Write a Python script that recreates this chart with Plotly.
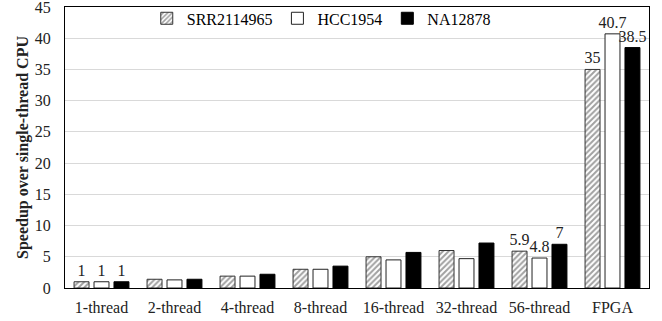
import plotly.graph_objects as go

categories = ["1-thread", "2-thread", "4-thread", "8-thread", "16-thread", "32-thread", "56-thread", "FPGA"]
srr = [1, 1.4, 1.9, 3.0, 5.0, 6.0, 5.9, 35]
hcc = [1, 1.3, 1.9, 3.0, 4.5, 4.7, 4.8, 40.7]
na = [1, 1.4, 2.2, 3.5, 5.7, 7.2, 7, 38.5]
srr_text = ["1", "", "", "", "", "", "5.9", "35"]
hcc_text = ["1", "", "", "", "", "", "4.8", "40.7"]
na_text = ["1", "", "", "", "", "", "7", "38.5"]

font = "Liberation Serif"
fs = 16

fig = go.Figure()
fig.add_trace(go.Bar(
    name="SRR2114965", x=categories, y=srr, text=srr_text, textposition="outside",
    cliponaxis=False, constraintext="none",
    marker=dict(color="white", line=dict(color="#333333", width=1),
                pattern=dict(shape="/", fgcolor="#444444", bgcolor="white", size=4, solidity=0.5)),
))
fig.add_trace(go.Bar(
    name="HCC1954", x=categories, y=hcc, text=hcc_text, textposition="outside",
    cliponaxis=False, constraintext="none",
    marker=dict(color="white", line=dict(color="#222222", width=1)),
))
fig.add_trace(go.Bar(
    name="NA12878", x=categories, y=na, text=na_text, textposition="outside",
    cliponaxis=False, constraintext="none",
    marker=dict(color="black", line=dict(color="black", width=1)),
))

fig.update_layout(
    width=662, height=321,
    margin=dict(l=65, r=13, t=7, b=33, autoexpand=False),
    paper_bgcolor="white", plot_bgcolor="white",
    font=dict(family=font, size=fs, color="#222222"),
    barmode="group", bargap=0.18, bargroupgap=0.25,
    showlegend=True,
    legend=dict(orientation="h", x=0.14, xanchor="left", y=1.02, yanchor="top",
                font=dict(family=font, size=fs, color="black"),
                bgcolor="rgba(0,0,0,0)", itemwidth=30, tracegroupgap=0),
)
fig.update_traces(textfont=dict(family=font, size=fs, color="#222222"))
fig.update_xaxes(showline=True, linecolor="black", linewidth=1, mirror=True, automargin=False,
                 ticks="", ticklabelstandoff=5, tickfont=dict(family=font, size=fs, color="#222222"))
fig.update_yaxes(range=[0, 45], dtick=5, showline=True, linecolor="black", linewidth=1, mirror=True,
                 automargin=False, ticklabelstandoff=10, ticklabeloverflow="allow",
                 showgrid=True, gridcolor="#d9d9d9", gridwidth=1, zeroline=False,
                 tickfont=dict(family=font, size=fs, color="#222222"),
                 title=dict(text="<b>Speedup over single-thread CPU</b>", standoff=2,
                            font=dict(family=font, size=fs, color="#222222")))

fig.write_html("out.html", config={"displayModeBar": False},
               post_script="document.body.style.margin='0';")
